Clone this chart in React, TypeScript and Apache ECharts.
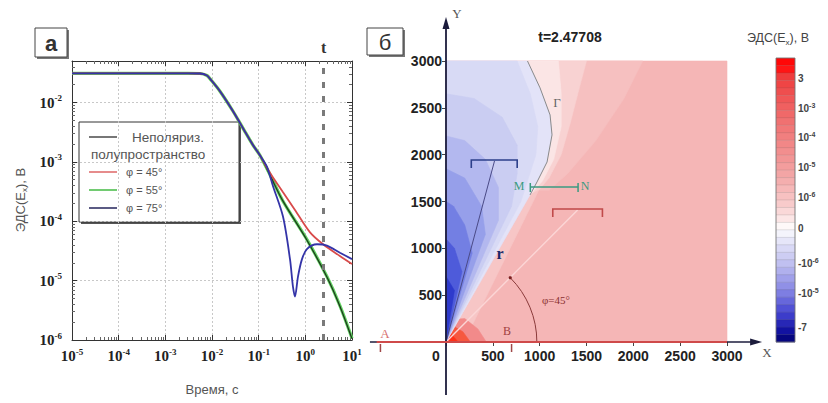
import React, { useEffect, useRef } from "react";
import * as echarts from "echarts";

// ===================== DATA: panel а (transient responses) =====================
const commonTimes = [1e-5, 1e-4, 1e-3, 0.003, 0.0055, 0.0078, 0.0091, 0.0148, 0.028, 0.047, 0.076, 0.107];
const commonValues = [0.031, 0.031, 0.031, 0.031, 0.0308, 0.0285, 0.025, 0.0155, 0.0072, 0.0036, 0.0019, 0.00128];

const halfSpaceTimes = [0.18, 0.33, 1.1, 2.9, 5.5, 10];
const halfSpaceValues = [5.7e-4, 2.2e-4, 4.7e-5, 1.15e-5, 3.7e-6, 1.05e-6];

const phi45Times = [0.18, 0.33, 0.6, 1.26, 2.4, 5.5, 10];
const phi45Values = [6.3e-4, 3.1e-4, 1.55e-4, 6.5e-5, 4.1e-5, 2.6e-5, 1.9e-5];

const phi55Times = [0.18, 0.33, 1.1, 2.9, 5.5, 10];
const phi55Values = [5.8e-4, 2.2e-4, 4.8e-5, 1.17e-5, 3.8e-6, 1.07e-6];

const phi75Times = [0.15, 0.203, 0.332, 0.469, 0.543, 0.6, 0.696, 0.848, 1.08, 1.78, 2.91, 5.52, 10];
const phi75Values = [8.3e-4, 3.9e-4, 1.2e-4, 2.3e-5, 7.9e-6, 5.4e-6, 1.17e-5, 2.3e-5, 3.4e-5, 4.1e-5, 3.9e-5, 2.95e-5, 2.3e-5];

const snapshotTime = 2.47708;
const timeRange = [1e-5, 10];
const emfRange = [1e-6, 0.05];
const legendLines = ["Неполяриз.", "полупространство", "φ = 45°", "φ = 55°", "φ = 75°"];

// ===================== DATA: panel б (field map, metres) =====================
const mapRange = [0, 3000];
const mapStep = 500;
const electrodeA = -700;
const electrodeB = 700;
const axisXExtent = [-812, 3375];
const axisYExtent = [-566, 3471];

const gammaBoundary = [[870, 3000], [1004, 2713], [1111, 2424], [1132, 2211], [1079, 1922], [972, 1709], [897, 1570]];

const zoneRedBase = [[0, 0], [3000, 0], [3000, 3000], [0, 3000]];
const zoneRedMid = [[990, 1620], [1100, 1750], [1230, 2000], [1330, 2350], [1420, 2700], [1500, 3000], [2100, 3000], [1900, 2600], [1600, 2150], [1300, 1800], [1100, 1620]];
const zonePaleOuter = [[897, 1570], [972, 1709], [1079, 1922], [1132, 2211], [1111, 2424], [1004, 2713], [870, 3000], [1500, 3000], [1420, 2700], [1330, 2350], [1230, 2000], [1100, 1750], [990, 1620]];
const zonePaleInner = [[897, 1570], [972, 1709], [1079, 1922], [1132, 2211], [1111, 2424], [1004, 2713], [870, 3000], [1200, 3000], [1230, 2650], [1230, 2300], [1150, 1950], [1030, 1720]];
const zoneRayStrip = [[0, 0], [897, 1570], [990, 1620], [220, 60]];
const zoneHotOuter = [[0, 0], [430, 0], [340, 140], [200, 250], [140, 245]];
const zoneHotMid = [[0, 0], [260, 0], [180, 110], [95, 160]];
const zoneHotCore = [[0, 0], [130, 0], [55, 85]];
const zoneBlue1 = [[0, 0], [897, 1570], [972, 1709], [1079, 1922], [1132, 2211], [1111, 2424], [1004, 2713], [870, 3000], [0, 3000]];
const zoneBlue2 = [[0, 0], [800, 1500], [880, 1750], [960, 2000], [980, 2300], [900, 2650], [760, 3000], [0, 3000]];
const zoneBlue3 = [[0, 0], [700, 1450], [760, 1800], [760, 2100], [600, 2400], [300, 2600], [0, 2650]];
const zoneBlue4 = [[0, 0], [560, 1300], [560, 1650], [420, 1950], [200, 2150], [0, 2200]];
const zoneBlue5 = [[0, 0], [420, 1150], [380, 1450], [200, 1750], [0, 1850]];
const zoneBlue6 = [[0, 0], [280, 950], [200, 1250], [80, 1450], [0, 1500]];
const zoneBlue7 = [[0, 0], [170, 750], [90, 1000], [0, 1100]];
const zoneBlue8 = [[0, 0], [90, 550], [0, 700]];

const fieldZones = [zoneRedBase, zoneRedMid, zonePaleOuter, zonePaleInner, zoneRayStrip, zoneHotOuter, zoneHotMid, zoneHotCore,
  zoneBlue1, zoneBlue2, zoneBlue3, zoneBlue4, zoneBlue5, zoneBlue6, zoneBlue7, zoneBlue8];

const segmentPhi75 = [270, 760, 1933];
const segmentPhi55 = [900, 1410, 1655];
const segmentPhi45 = [1140, 1670, 1410];
const rayPhi75End = [518, 1933];
const rayPhi45End = [1405, 1410];
const arcRadius = 970;

const mapLabels = [
  { text: "Γ", x: 1185, y: 2552 },
  { text: "r", x: 577, y: 950 },
  { text: "M", x: 779, y: 1665 },
  { text: "N", x: 1484, y: 1665 },
  { text: "φ=45°", x: 1174, y: 448 },
  { text: "A", x: -651, y: 96 },
  { text: "B", x: 651, y: 117 },
  { text: "X", x: 3427, y: -107 },
  { text: "Y", x: 117, y: 3502 },
];

const colorbarTicks = [
  { base: "3", exp: "" },
  { base: "10", exp: "-3" },
  { base: "10", exp: "-4" },
  { base: "10", exp: "-5" },
  { base: "10", exp: "-6" },
  { base: "0", exp: "" },
  { base: "-10", exp: "-6" },
  { base: "-10", exp: "-5" },
  { base: "-7", exp: "" },
];

// ===================== STYLES =====================
const SANS = "'Liberation Sans', Arial, sans-serif";
const SERIF = "'Liberation Serif', 'Times New Roman', serif";

const fieldZoneColors = ["#f5b6b6", "#f6c0c0", "#f8d2d2", "#fbe5e5", "#f7c6c6", "#f28a8a", "#f6583f", "#ff3218",
  "#e3e3f8", "#d8daf5", "#cacdf2", "#b3b8ef", "#969fea", "#737fe3", "#4e5bda", "#2e3acc"];

const mapLabelStyles = [
  { fill: "#666", fontSize: 13, fontFamily: SERIF, fontWeight: "normal" },
  { fill: "#1a2a6a", fontSize: 16, fontFamily: SERIF, fontWeight: "bold" },
  { fill: "#3a9a80", fontSize: 12, fontFamily: SERIF, fontWeight: "normal" },
  { fill: "#3a9a80", fontSize: 12, fontFamily: SERIF, fontWeight: "normal" },
  { fill: "#8a3030", fontSize: 11, fontFamily: SERIF, fontWeight: "normal" },
  { fill: "#d87070", fontSize: 13, fontFamily: SERIF, fontWeight: "normal" },
  { fill: "#a04040", fontSize: 12, fontFamily: SERIF, fontWeight: "normal" },
  { fill: "#555", fontSize: 13, fontFamily: SERIF, fontWeight: "normal" },
  { fill: "#555", fontSize: 13, fontFamily: SERIF, fontWeight: "normal" },
];

const colorbarStops: [number, string][] = [
  [0, "#ff0000"], [0.05, "#ff1a1a"], [0.06, "#ef3a3a"], [0.2, "#f06a6a"], [0.4, "#f3a2a2"],
  [0.52, "#f8cdcd"], [0.58, "#fdeeee"], [0.6, "#ffffff"], [0.63, "#ededfa"], [0.72, "#c2c2f1"],
  [0.82, "#8585e4"], [0.9, "#4242d0"], [0.96, "#1212a2"], [1, "#000070"],
];
const colorbarSteps = 38;
const colorbarTickY = [78, 108, 137, 167, 197, 228, 263, 293, 327];
const CB = { left: 776, top: 58, width: 19, height: 284 };

function hexRgb(h: string) {
  const n = parseInt(h.slice(1), 16);
  return [(n >> 16) & 255, (n >> 8) & 255, n & 255];
}
function sampleStops(f: number) {
  for (let i = 1; i < colorbarStops.length; i++) {
    const [f1, c1] = colorbarStops[i];
    const [f0, c0] = colorbarStops[i - 1];
    if (f <= f1) {
      const t = f1 === f0 ? 0 : (f - f0) / (f1 - f0);
      const a = hexRgb(c0), b = hexRgb(c1);
      const m = a.map((v, k) => Math.round(v + (b[k] - v) * t));
      return `rgb(${m[0]},${m[1]},${m[2]})`;
    }
  }
  return colorbarStops[colorbarStops.length - 1][1];
}

const pairs = (ts: number[], vs: number[]) => ts.map((t, i) => [t, vs[i]]);
const withCommon = (ts: number[], vs: number[]) => pairs(commonTimes, commonValues).concat(pairs(ts, vs));

const pow10Label = (v: number) => {
  const e = Math.log10(v);
  const r = Math.round(e);
  if (Math.abs(e - r) > 1e-6) return "";
  return `{b|10}{s|${r}}`;
};
const powRich = {
  b: { fontFamily: SERIF, fontWeight: "bold", fontSize: 15, color: "#222", lineHeight: 18 },
  s: { fontFamily: SERIF, fontWeight: "bold", fontSize: 9, color: "#222", verticalAlign: "top", lineHeight: 9 },
};

function buildOption(): any {
  const logAxisCommon = {
    type: "log",
    logBase: 10,
    gridIndex: 0,
    axisLine: { show: true, lineStyle: { color: "#333", width: 1 } },
    axisTick: { show: true, inside: true, length: 5, lineStyle: { color: "#333" } },
    minorTick: { show: true, splitNumber: 9, length: 3, lineStyle: { color: "#666" } },
  };
  const mapAxisCommon = { type: "value", gridIndex: 1, min: mapRange[0], max: mapRange[1], interval: mapStep, splitLine: { show: false } };
  const mapLabelStyle = { fontFamily: SANS, fontWeight: "bold", fontSize: 14, color: "#222" };

  const graphic: any[] = [];
  // panel labels
  graphic.push({ type: "rect", shape: { x: 37, y: 30, width: 32, height: 29 }, style: { fill: "#777" } });
  graphic.push({ type: "rect", shape: { x: 35, y: 28, width: 32, height: 29 }, style: { fill: "#fff", stroke: "#444", lineWidth: 1 } });
  graphic.push({ type: "text", x: 51, y: 43, style: { text: "а", fontSize: 22, fontFamily: SANS, fontWeight: "bold", fill: "#333", align: "center", verticalAlign: "middle" } });
  graphic.push({ type: "rect", shape: { x: 369, y: 30, width: 36, height: 27 }, style: { fill: "#777" } });
  graphic.push({ type: "rect", shape: { x: 367, y: 28, width: 36, height: 27 }, style: { fill: "#fff", stroke: "#444", lineWidth: 1 } });
  graphic.push({ type: "text", x: 385, y: 42, style: { text: "б", fontSize: 22, fontFamily: SANS, fill: "#333", align: "center", verticalAlign: "middle" } });

  // left y-axis title
  graphic.push({
    type: "text", x: 20, y: 200, rotation: Math.PI / 2,
    style: {
      text: "{a|ЭДС(E}{u|x}{a|), В}",
      rich: {
        a: { fontFamily: SANS, fontSize: 13, fill: "#555", lineHeight: 16 },
        u: { fontFamily: SANS, fontSize: 8, fill: "#555", verticalAlign: "bottom", lineHeight: 8 },
      },
      align: "center", verticalAlign: "middle",
    },
  });

  // legend
  graphic.push({ type: "rect", shape: { x: 81, y: 124, width: 160, height: 100 }, style: { fill: "#555" } });
  graphic.push({ type: "rect", shape: { x: 79, y: 122, width: 160, height: 100 }, style: { fill: "#fff", stroke: "#333", lineWidth: 1 } });
  const legendColors = ["#555", "#e07070", "#4fbf4f", "#333366"];
  const legendY = [137, 172, 190, 208];
  legendColors.forEach((c, i) => {
    graphic.push({ type: "line", shape: { x1: 89, y1: legendY[i], x2: 117, y2: legendY[i] }, style: { stroke: c, lineWidth: 1.6 } });
  });
  graphic.push({ type: "text", x: 132, y: 137, style: { text: legendLines[0], fontSize: 13.5, fontFamily: SANS, fill: "#555", align: "left", verticalAlign: "middle" } });
  graphic.push({ type: "text", x: 91, y: 154, style: { text: legendLines[1], fontSize: 13.5, fontFamily: SANS, fill: "#555", align: "left", verticalAlign: "middle" } });
  [2, 3, 4].forEach((k, i) => {
    graphic.push({ type: "text", x: 126, y: legendY[i + 1], style: { text: legendLines[k], fontSize: 11, fontFamily: SANS, fill: "#555", align: "left", verticalAlign: "middle" } });
  });

  // panel б title
  graphic.push({ type: "text", x: 570, y: 37, style: { text: `t=${snapshotTime}`, fontSize: 14, fontFamily: SANS, fontWeight: "bold", fill: "#222", align: "center", verticalAlign: "middle" } });

  // colorbar
  const stepH = CB.height / colorbarSteps;
  for (let i = 0; i < colorbarSteps; i++) {
    const c = sampleStops((i + 0.5) / colorbarSteps);
    graphic.push({ type: "rect", shape: { x: CB.left, y: CB.top + i * stepH, width: CB.width, height: stepH + 0.3 }, style: { fill: c, stroke: "rgba(90,90,90,0.25)", lineWidth: 0.5 } });
  }
  graphic.push({ type: "rect", shape: { x: CB.left, y: CB.top, width: CB.width, height: CB.height }, style: { fill: "none", stroke: "#777", lineWidth: 0.8 } });
  colorbarTicks.forEach((t, i) => {
    graphic.push({
      type: "text", x: CB.left + CB.width + 3, y: colorbarTickY[i],
      style: {
        text: t.exp ? `{b|${t.base}}{s|${t.exp}}` : `{b|${t.base}}`,
        rich: {
          b: { fontFamily: SANS, fontWeight: "bold", fontSize: 10, fill: "#444", lineHeight: 13 },
          s: { fontFamily: SANS, fontWeight: "bold", fontSize: 7, fill: "#444", verticalAlign: "top", lineHeight: 7 },
        },
        align: "left", verticalAlign: "middle",
      },
    });
  });
  graphic.push({
    type: "text", x: 747, y: 38,
    style: {
      text: "{a|ЭДС(E}{u|x}{a|), В}",
      rich: {
        a: { fontFamily: SANS, fontSize: 12.5, fill: "#444", lineHeight: 16 },
        u: { fontFamily: SANS, fontSize: 8, fill: "#444", verticalAlign: "bottom", lineHeight: 8 },
      },
      align: "left", verticalAlign: "middle",
    },
  });

  const fieldSeries = {
    type: "custom",
    name: "field",
    xAxisIndex: 2,
    yAxisIndex: 2,
    silent: true,
    z: 1,
    data: fieldZones.map((_, i) => [i, 0]),
    renderItem: (params: any, api: any) => {
      const zone = fieldZones[params.dataIndex];
      const pts = zone.map((p) => api.coord([p[0], p[1]]));
      const col = fieldZoneColors[params.dataIndex];
      return { type: "polygon", shape: { points: pts }, style: { fill: col, stroke: col, lineWidth: 0.6 } };
    },
  };

  const annotationSeries = {
    type: "custom",
    name: "annotations",
    xAxisIndex: 2,
    yAxisIndex: 2,
    silent: true,
    z: 5,
    clip: false,
    data: [[0, 0]],
    renderItem: (_params: any, api: any) => {
      const c = (x: number, y: number) => api.coord([x, y]);
      const o = c(0, 0);
      const ch: any[] = [];
      const r45 = c(rayPhi45End[0], rayPhi45End[1]);
      ch.push({ type: "line", shape: { x1: o[0], y1: o[1], x2: r45[0], y2: r45[1] }, style: { stroke: "#fbd6d6", lineWidth: 1.4 } });
      ch.push({ type: "polyline", shape: { points: gammaBoundary.map((p) => c(p[0], p[1])) }, style: { stroke: "#8a8a8a", lineWidth: 1, fill: "none" } });
      const r75 = c(rayPhi75End[0], rayPhi75End[1]);
      ch.push({ type: "line", shape: { x1: o[0], y1: o[1], x2: r75[0], y2: r75[1] }, style: { stroke: "#4a4a86", lineWidth: 1 } });
      const rr = c(arcRadius, 0)[0] - o[0];
      ch.push({ type: "arc", shape: { cx: o[0], cy: o[1], r: rr, startAngle: -Math.PI / 4, endAngle: 0, clockwise: true }, style: { stroke: "#8a3a3a", lineWidth: 1, fill: "none" } });
      ch.push({ type: "circle", shape: { cx: o[0] + rr * Math.SQRT1_2, cy: o[1] - rr * Math.SQRT1_2, r: 1.6 }, style: { fill: "#7a2020" } });
      const bracket = (s: number[], color: string) => {
        const a = c(s[0], s[2]), b = c(s[1], s[2]);
        ch.push({ type: "polyline", shape: { points: [[a[0], a[1] + 7], [a[0], a[1] - 1], [b[0], b[1] - 1], [b[0], b[1] + 7]] }, style: { stroke: color, lineWidth: 1.6, fill: "none" } });
      };
      bracket(segmentPhi75, "#2c3f8a");
      bracket(segmentPhi45, "#c04a4a");
      const m = c(segmentPhi55[0], segmentPhi55[2]), n = c(segmentPhi55[1], segmentPhi55[2]);
      ch.push({ type: "line", shape: { x1: m[0], y1: m[1], x2: n[0], y2: n[1] }, style: { stroke: "#3a9a80", lineWidth: 1.5 } });
      ch.push({ type: "line", shape: { x1: m[0], y1: m[1] - 4, x2: m[0], y2: m[1] + 5 }, style: { stroke: "#3a9a80", lineWidth: 1.5 } });
      ch.push({ type: "line", shape: { x1: n[0], y1: n[1] - 4, x2: n[0], y2: n[1] + 5 }, style: { stroke: "#3a9a80", lineWidth: 1.5 } });
      const xl = c(axisXExtent[0], 0), xr = c(axisXExtent[1], 0);
      ch.push({ type: "line", shape: { x1: xl[0], y1: xl[1], x2: xr[0] - 4, y2: xr[1] }, style: { stroke: "#1c1c3c", lineWidth: 1.5 } });
      ch.push({ type: "polygon", shape: { points: [[xr[0], xr[1]], [xr[0] - 12, xr[1] - 3.5], [xr[0] - 12, xr[1] + 3.5]] }, style: { fill: "#1c1c3c" } });
      const yb = c(0, axisYExtent[0]), yt = c(0, axisYExtent[1]);
      ch.push({ type: "line", shape: { x1: yb[0], y1: yb[1], x2: yt[0], y2: yt[1] + 4 }, style: { stroke: "#1c1c3c", lineWidth: 1.8 } });
      ch.push({ type: "polygon", shape: { points: [[yt[0], yt[1]], [yt[0] - 3.5, yt[1] + 12], [yt[0] + 3.5, yt[1] + 12]] }, style: { fill: "#1c1c3c" } });
      const la = c(electrodeA - 40, 0), le = c(mapRange[1], 0);
      ch.push({ type: "line", shape: { x1: la[0], y1: la[1], x2: le[0], y2: le[1] }, style: { stroke: "#cf4a4a", lineWidth: 2 } });
      [electrodeA, electrodeB].forEach((e) => {
        const p = c(e, 0);
        ch.push({ type: "line", shape: { x1: p[0], y1: p[1] + 2, x2: p[0], y2: p[1] + 10 }, style: { stroke: "#a04848", lineWidth: 1.5 } });
      });
      mapLabels.forEach((l, i) => {
        const p = c(l.x, l.y);
        const s = mapLabelStyles[i];
        ch.push({ type: "text", x: p[0], y: p[1], style: { text: l.text, fill: s.fill, fontSize: s.fontSize, fontFamily: s.fontFamily, fontWeight: s.fontWeight, align: "center", verticalAlign: "middle" } });
      });
      return { type: "group", children: ch };
    },
  };

  const lineBase = { type: "line", xAxisIndex: 0, yAxisIndex: 0, showSymbol: false, smooth: 0.3, silent: true };

  return {
    animation: false,
    backgroundColor: "#fff",
    grid: [
      { left: 72, top: 61, width: 280, height: 279 },
      { left: 446, top: 61, width: 281, height: 281 },
    ],
    xAxis: [
      {
        ...logAxisCommon, position: "bottom", min: timeRange[0], max: timeRange[1],
        axisLabel: { formatter: pow10Label, rich: powRich, margin: 7 },
        splitLine: { show: true, lineStyle: { color: "#c8c8c8", type: [2, 2] } },
        name: "Время, с", nameLocation: "middle", nameGap: 43,
        nameTextStyle: { fontFamily: SANS, fontSize: 13, color: "#555" },
      },
      { ...logAxisCommon, position: "top", min: timeRange[0], max: timeRange[1], axisLabel: { show: false }, splitLine: { show: false } },
      {
        ...mapAxisCommon, position: "bottom",
        axisLine: { show: false },
        axisTick: { show: true, length: 4, lineStyle: { color: "#333" } },
        axisLabel: {
          ...mapLabelStyle, margin: 7,
          formatter: (v: number) => (v === 0 ? "{z|0}" : String(v)),
          rich: { z: { ...mapLabelStyle, padding: [0, 20, 0, 0] } },
        },
      },
      {
        ...mapAxisCommon, position: "top",
        axisLine: { show: true, lineStyle: { color: "#444", width: 1 } },
        axisTick: { show: true, inside: true, length: 4, lineStyle: { color: "#444" } },
        axisLabel: { show: false },
      },
    ],
    yAxis: [
      {
        ...logAxisCommon, position: "left", min: emfRange[0], max: emfRange[1],
        axisLabel: { formatter: pow10Label, rich: powRich, margin: 10 },
        splitLine: { show: true, lineStyle: { color: "#c8c8c8", type: [2, 2] } },
      },
      { ...logAxisCommon, position: "right", min: emfRange[0], max: emfRange[1], axisLabel: { show: false }, splitLine: { show: false } },
      {
        ...mapAxisCommon, position: "left",
        axisLine: { show: false },
        axisTick: { show: true, length: 4, lineStyle: { color: "#333" } },
        axisLabel: { ...mapLabelStyle, margin: 4, showMinLabel: false, formatter: (v: number) => String(v) },
      },
      {
        ...mapAxisCommon, position: "right",
        axisLine: { show: true, lineStyle: { color: "#444", width: 1 } },
        axisTick: { show: true, inside: true, length: 4, lineStyle: { color: "#444" } },
        axisLabel: { show: false },
      },
    ],
    series: [
      { ...lineBase, name: "φ = 55°", data: withCommon(phi55Times, phi55Values), lineStyle: { color: "#5fd35f", width: 3.2 }, z: 2 },
      { ...lineBase, name: "Неполяриз. полупространство", data: withCommon(halfSpaceTimes, halfSpaceValues), lineStyle: { color: "#1e3a1e", width: 1.3 }, z: 3 },
      { ...lineBase, name: "φ = 45°", data: withCommon(phi45Times, phi45Values), lineStyle: { color: "#d84a4a", width: 1.8 }, z: 4 },
      {
        ...lineBase, name: "φ = 75°", data: withCommon(phi75Times, phi75Values), lineStyle: { color: "#3434a8", width: 1.8 }, z: 5,
        markLine: {
          silent: true, symbol: ["none", "none"],
          lineStyle: { color: "#7a7a7a", width: 3, type: [6, 8] },
          label: { show: true, position: "end", formatter: "t", fontFamily: SERIF, fontWeight: "bold", fontSize: 16, color: "#333", distance: 6 },
          data: [{ xAxis: snapshotTime }],
        },
      },
      fieldSeries,
      annotationSeries,
    ],
    graphic,
  };
}

export default function App() {
  const ref = useRef<HTMLDivElement>(null);
  useEffect(() => {
    if (!ref.current) return;
    const chart = echarts.init(ref.current, null, { renderer: "svg" });
    chart.setOption(buildOption());
    return () => chart.dispose();
  }, []);
  return <div ref={ref} style={{ position: "absolute", left: 0, top: 0, width: 828, height: 403, background: "#fff" }} />;
}
